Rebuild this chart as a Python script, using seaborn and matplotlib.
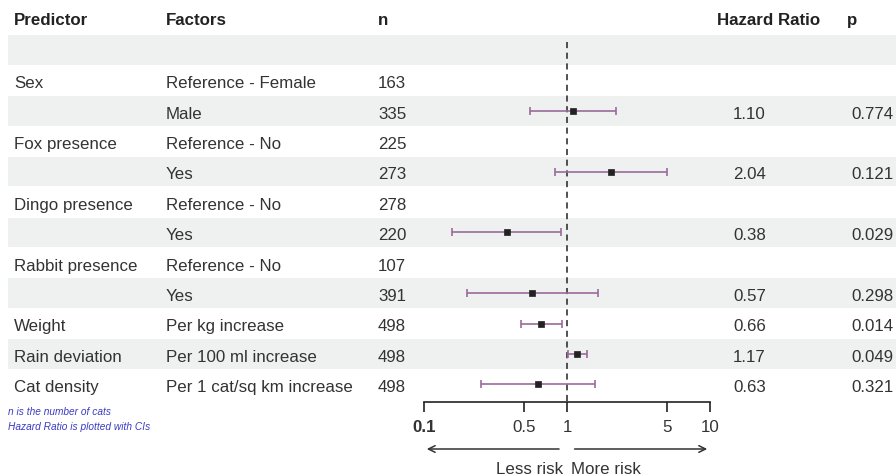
import numpy as np
import pandas as pd
import seaborn as sns
import matplotlib.pyplot as plt
from matplotlib.ticker import FixedLocator, FixedFormatter, NullLocator

# ---------- data ----------
predictors = ["", "Sex", "", "Fox presence", "", "Dingo presence", "",
              "Rabbit presence", "", "Weight", "Rain deviation", "Cat density"]
factors = ["", "Reference - Female", "Male", "Reference - No", "Yes",
           "Reference - No", "Yes", "Reference - No", "Yes",
           "Per kg increase", "Per 100 ml increase", "Per 1 cat/sq km increase"]
n_cats = ["", "163", "335", "225", "273", "278", "220", "107", "391",
          "498", "498", "498"]
hr = [np.nan, np.nan, 1.10, np.nan, 2.04, np.nan, 0.38, np.nan, 0.57,
      0.66, 1.17, 0.63]
ci_low = [np.nan, np.nan, 0.55, np.nan, 0.82, np.nan, 0.157, np.nan, 0.20,
          0.48, 1.01, 0.25]
ci_high = [np.nan, np.nan, 2.2, np.nan, 5.0, np.nan, 0.91, np.nan, 1.65,
           0.92, 1.38, 1.57]
hr_text = ["", "", "1.10", "", "2.04", "", "0.38", "", "0.57",
           "0.66", "1.17", "0.63"]
p_text = ["", "", "0.774", "", "0.121", "", "0.029", "", "0.298",
          "0.014", "0.049", "0.321"]
tick_vals = [0.1, 0.5, 1, 5, 10]
tick_labels = ["0.1", "0.5", "1", "5", "10"]

df = pd.DataFrame({"row": np.arange(len(hr)), "hr": hr,
                   "lo": ci_low, "hi": ci_high})

# ---------- style ----------
sns.set_theme(style="white")
plt.rcParams["font.family"] = ["Liberation Sans", "DejaVu Sans"]
FS = 12.2
TXT = "#333333"
BAND = "#eef1ef"
CI_COL = "#9b6b9b"

W, H = 896, 476
fig = plt.figure(figsize=(W / 100, H / 100), dpi=100)

# row units: row k centre sits at 50 + 30.4*k px
def row_of(px):
    return (px - 50) / 30.4

TXT_OFF = 0.11  # row text sits a little below the band centre

# table axes over the whole figure (x in pixels, y in rows)
tab = fig.add_axes([0, 0, 1, 1])
tab.set_xlim(0, W)
tab.set_ylim(row_of(H), row_of(0))
tab.axis("off")

for k in range(0, len(hr), 2):
    tab.axhspan(k - 0.49, k + 0.49, xmin=8 / W, xmax=1, color=BAND, lw=0, zorder=0)

hdr_y = row_of(20)
for x, s in [(14, "Predictor"), (166, "Factors"), (378, "n"),
             (717, "Hazard Ratio"), (847, "p")]:
    tab.text(x, hdr_y, s, fontsize=FS, fontweight="bold", color="#222222",
             va="center", ha="left")

for k in range(len(hr)):
    y = k + TXT_OFF
    tab.text(14, y, predictors[k], fontsize=FS, color=TXT, va="center")
    tab.text(166, y, factors[k], fontsize=FS, color=TXT, va="center")
    tab.text(378, y, n_cats[k], fontsize=FS, color=TXT, va="center")
    tab.text(733, y, hr_text[k], fontsize=FS, color=TXT, va="center")
    tab.text(851, y, p_text[k], fontsize=FS, color=TXT, va="center")

tab.text(8, row_of(412), "n is the number of cats", fontsize=7.3,
         style="italic", color="#3b3bc4", va="center")
tab.text(8, row_of(427), "Hazard Ratio is plotted with CIs", fontsize=7.3,
         style="italic", color="#3b3bc4", va="center")

# forest axes (log scale), bottom spine at y=402 px
x0, x1 = 424, 710
ax = fig.add_axes([x0 / W, (H - 402) / H, (x1 - x0) / W, 402 / H])
ax.set_facecolor("none")
ax.set_xscale("log")
ax.set_xlim(0.1, 10)
ax.set_ylim(row_of(402), row_of(0))

ax.vlines(1, row_of(42), row_of(402), colors="#222222", linestyles=(0, (4, 3)),
          lw=1.1, zorder=1)

ok = df.dropna()
ax.errorbar(ok["hr"], ok["row"],
            xerr=[ok["hr"] - ok["lo"], ok["hi"] - ok["hr"]],
            fmt="none", ecolor=CI_COL, elinewidth=1.2, capsize=3,
            capthick=1.2, zorder=2)
sns.scatterplot(data=ok, x="hr", y="row", marker="s", s=20, color="#222222",
                edgecolor="#222222", linewidth=0.5, ax=ax, zorder=3, legend=False)

for side in ["top", "left", "right"]:
    ax.spines[side].set_visible(False)
ax.spines["bottom"].set_color("#222222")
ax.spines["bottom"].set_linewidth(1.2)
ax.set_xlabel("")
ax.set_ylabel("")
ax.set_yticks([])
ax.xaxis.set_major_locator(FixedLocator(tick_vals))
ax.xaxis.set_major_formatter(FixedFormatter(tick_labels))
ax.xaxis.set_minor_locator(NullLocator())
ax.tick_params(axis="x", which="major", direction="out", length=7.5, width=1.2,
               color="#222222", labelsize=FS, labelcolor=TXT, pad=5.5, bottom=True)
ax.get_xticklabels()[0].set_fontweight("bold")

arrow_y = row_of(449)
ax.annotate("", xy=(0.1, arrow_y), xytext=(0.92, arrow_y),
            arrowprops=dict(arrowstyle="->", color="#333333", lw=1.1),
            annotation_clip=False)
ax.annotate("", xy=(10, arrow_y), xytext=(1.08, arrow_y),
            arrowprops=dict(arrowstyle="->", color="#333333", lw=1.1),
            annotation_clip=False)
ax.text(0.935, row_of(469), "Less risk", fontsize=FS, color=TXT,
        ha="right", va="center", clip_on=False)
ax.text(1.06, row_of(469), "More risk", fontsize=FS, color=TXT,
        ha="left", va="center", clip_on=False)

fig.savefig("out.png", dpi=100)
